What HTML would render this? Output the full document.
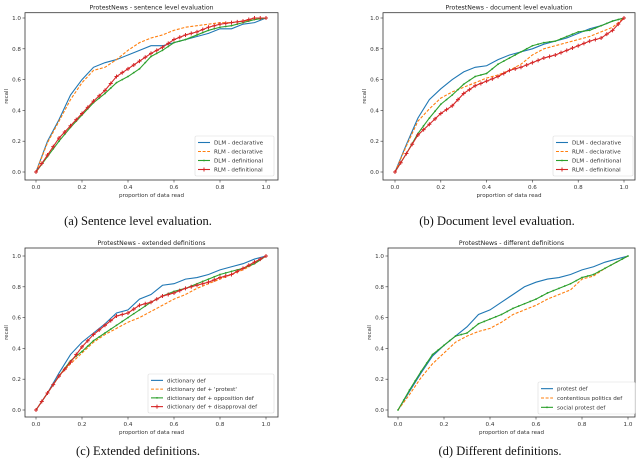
<!DOCTYPE html>
<html><head><meta charset="utf-8">
<style>
html,body{margin:0;padding:0;background:#fff;}
svg{display:block;font-family:"DejaVu Sans","Liberation Sans",sans-serif;}
.cap{font-family:"Liberation Serif",serif;font-size:12.5px;fill:#111;}
</style></head>
<body>
<svg id="fig" width="640" height="468" viewBox="0 0 640 468"></svg>
<script>
const xs = [0,0.05,0.1,0.15,0.2,0.25,0.3,0.35,0.4,0.45,0.5,0.55,0.6,0.65,0.7,0.75,0.8,0.85,0.9,0.95,1];
const xTicks = [0,0.2,0.4,0.6,0.8,1.0];
const yTicks = [0,0.2,0.4,0.6,0.8,1.0];
// panel a
const aDlmDecl = [0,.2,.34,.5,.6,.68,.71,.73,.76,.79,.82,.82,.84,.86,.88,.9,.93,.93,.96,.97,1];
const aRlmDecl = [0,.19,.33,.47,.58,.66,.68,.73,.79,.84,.87,.89,.92,.94,.95,.96,.97,.97,.98,.99,1];
const aDlmDef = [0,.1,.2,.29,.37,.45,.51,.58,.62,.67,.75,.79,.84,.86,.89,.92,.94,.95,.97,.99,1];
const aRlmDef = [0,.11,.22,.3,.38,.46,.53,.62,.67,.72,.77,.81,.86,.89,.91,.94,.96,.97,.98,1,1];
// panel b
const bDlmDecl = [0,.18,.35,.47,.54,.6,.65,.68,.69,.73,.76,.78,.8,.83,.85,.87,.9,.93,.95,.98,1];
const bRlmDecl = [0,.17,.33,.41,.48,.52,.55,.58,.61,.63,.66,.7,.76,.8,.82,.84,.86,.88,.91,.94,1];
const bDlmDef = [0,.12,.25,.35,.44,.5,.57,.62,.64,.7,.74,.78,.82,.84,.85,.88,.91,.92,.95,.98,1];
const bRlmDef = [0,.12,.24,.31,.38,.43,.51,.56,.59,.62,.66,.68,.71,.74,.76,.79,.82,.85,.87,.92,1];
// panel c
const cDict = [0,.11,.24,.36,.44,.5,.56,.63,.65,.72,.75,.81,.82,.85,.86,.88,.91,.93,.95,.98,1];
const cProtest = [0,.11,.22,.3,.37,.44,.49,.53,.57,.6,.64,.68,.72,.75,.79,.82,.85,.88,.91,.95,1];
const cOpp = [0,.11,.22,.32,.38,.45,.5,.55,.6,.65,.7,.74,.77,.79,.82,.85,.88,.9,.92,.95,1];
const cDis = [0,.11,.22,.31,.41,.49,.55,.61,.63,.68,.7,.74,.76,.79,.81,.83,.86,.88,.92,.96,1];
// panel d
const dProtest = [0,.12,.24,.35,.42,.48,.54,.62,.65,.7,.75,.8,.83,.85,.86,.88,.91,.93,.96,.98,1];
const dContent = [0,.1,.21,.3,.37,.44,.48,.51,.53,.57,.62,.65,.68,.72,.75,.78,.85,.87,.92,.96,1];
const dSocial = [0,.13,.25,.36,.42,.48,.5,.56,.59,.62,.66,.69,.72,.76,.79,.82,.86,.88,.92,.96,1];

const NS='http://www.w3.org/2000/svg';
const fig=document.getElementById('fig');
function mk(tag,attrs,parent){const e=document.createElementNS(NS,tag);for(const k in attrs)e.setAttribute(k,attrs[k]);(parent||fig).appendChild(e);return e;}
const C={blue:'#1f77b4',orange:'#ff7f0e',green:'#2ca02c',red:'#d62728'};

function panel(p){
  const g=mk('g',{});
  
  
  const X=v=>p.x0+(p.x1-p.x0)*v, Y=v=>p.y0+(p.y1-p.y0)*v;
  const box=mk('rect',{x:p.L,y:p.T,width:p.R-p.L,height:p.B-p.T,fill:'none',stroke:'#333','stroke-width':0.8},g);
  
  
  const t=mk('text',{x:(p.L+p.R)/2,y:p.T-3,'text-anchor':'middle','font-size':6.2,fill:'#222'},g);
  t.textContent=p.title;
  
  
  xTicks.forEach(v=>{
    mk('line',{x1:X(v),x2:X(v),y1:p.B,y2:p.B+2.5,stroke:'#333','stroke-width':0.6},g);
    const tx=mk('text',{x:X(v),y:p.B+9,'text-anchor':'middle','font-size':5.6,fill:'#333'},g);
    tx.textContent=v.toFixed(1);
    
    
  });
  yTicks.forEach(v=>{
    mk('line',{x1:p.L-2.5,x2:p.L,y1:Y(v),y2:Y(v),stroke:'#333','stroke-width':0.6},g);
    const ty=mk('text',{x:p.L-4,y:Y(v)+2,'text-anchor':'end','font-size':5.6,fill:'#333'},g);
    ty.textContent=v.toFixed(1);
    
    
  });
  const xl=mk('text',{x:(p.L+p.R)/2,y:p.B+17,'text-anchor':'middle','font-size':5.6,fill:'#333'},g);
  xl.textContent='proportion of data read';
  
  
  const yl=mk('text',{x:0,y:0,'text-anchor':'middle','font-size':5.4,fill:'#333',transform:`translate(${p.L-17},${(p.T+p.B)/2}) rotate(-90)`},g);
  yl.textContent='recall';
  
  
  p.series.forEach(s=>{
    const pts=xs.map((x,i)=>X(x).toFixed(2)+','+Y(s.data[i]).toFixed(2)).join(' ');
    const pl=mk('polyline',{points:pts,fill:'none',stroke:C[s.color],'stroke-width':1.1,'stroke-dasharray':s.dash?'3,1.6':'none'},g);
    
    
    if(s.marker){
      for(let i=0;i<xs.length;i++){
        const cands=[[xs[i],s.data[i]]];
        if(i<xs.length-1) cands.push([(xs[i]+xs[i+1])/2,(s.data[i]+s.data[i+1])/2]);
        cands.forEach(([xv,yv])=>{
          const cx=X(xv),cy=Y(yv);
          if(s.marker==='plus'){
            mk('path',{d:`M${cx-2},${cy}H${cx+2}M${cx},${cy-2}V${cy+2}`,stroke:C[s.color],'stroke-width':1},g);
          } else {
            mk('circle',{cx,cy,r:0.9,fill:C[s.color]},g);
          }
        });
      }
    }
  });
  // legend
  const lg=mk('g',{},g);
  
  
  mk('rect',{x:p.lg[0],y:p.lg[1],width:p.lg[2],height:p.lg[3],fill:'#fff',stroke:'#ddd','stroke-width':0.6,rx:1.5},lg);
  const n=p.series.length, rowH=(p.lg[3]-4)/n;
  p.series.forEach((s,i)=>{
    const y=p.lg[1]+2+rowH*(i+0.5);
    const lx=p.lg[0]+3;
    mk('line',{x1:lx,x2:lx+12,y1:y,y2:y,stroke:C[s.color],'stroke-width':1.1,'stroke-dasharray':s.dash?'3,1.6':'none'},lg);
    if(s.marker==='plus') mk('path',{d:`M${lx+4},${y}h4M${lx+6},${y-2}v4`,stroke:C[s.color],'stroke-width':1},lg);
    if(s.marker==='dot') mk('circle',{cx:lx+6,cy:y,r:0.9,fill:C[s.color]},lg);
    const tt=mk('text',{x:lx+16,y:y+2,'font-size':5.6,fill:'#333'},lg);
    tt.textContent=s.label;
    
    
  });
  const cp=mk('text',{x:p.cap[0],y:p.cap[1],'text-anchor':'middle',class:'cap'},g);
  cp.textContent=p.caption;
  
  
}

panel({id:'panel-a',L:25,R:278,T:12.7,B:180,x0:36,x1:266,y0:172,y1:18,title:'ProtestNews - sentence level evaluation',
  lg:[195,136,79,40],cap:[138,225],caption:'(a) Sentence level evaluation.',
  series:[{name:'dlm-declarative',label:'DLM - declarative',color:'blue',data:aDlmDecl},
          {name:'rlm-declarative',label:'RLM - declarative',color:'orange',dash:true,data:aRlmDecl},
          {name:'dlm-definitional',label:'DLM - definitional',color:'green',marker:'dot',data:aDlmDef},
          {name:'rlm-definitional',label:'RLM - definitional',color:'red',marker:'plus',data:aRlmDef}]});
panel({id:'panel-b',L:383,R:635,T:12.7,B:180,x0:395,x1:624,y0:172,y1:18,title:'ProtestNews - document level evaluation',
  lg:[553,136,80,40],cap:[497,225],caption:'(b) Document level evaluation.',
  series:[{name:'dlm-declarative',label:'DLM - declarative',color:'blue',data:bDlmDecl},
          {name:'rlm-declarative',label:'RLM - declarative',color:'orange',dash:true,data:bRlmDecl},
          {name:'dlm-definitional',label:'DLM - definitional',color:'green',marker:'dot',data:bDlmDef},
          {name:'rlm-definitional',label:'RLM - definitional',color:'red',marker:'plus',data:bRlmDef}]});
panel({id:'panel-c',L:25,R:278,T:248,B:417,x0:36,x1:266,y0:410,y1:256,title:'ProtestNews - extended definitions',
  lg:[148,374,126,39],cap:[138,455],caption:'(c) Extended definitions.',
  series:[{name:'dictionary-def',label:'dictionary def',color:'blue',data:cDict},
          {name:'dictionary-protest',label:"dictionary def + 'protest'",color:'orange',dash:true,data:cProtest},
          {name:'dictionary-opposition',label:'dictionary def + opposition def',color:'green',marker:'dot',data:cOpp},
          {name:'dictionary-disapproval',label:'dictionary def + disapproval def',color:'red',marker:'plus',data:cDis}]});
panel({id:'panel-d',L:388,R:635,T:248,B:417,x0:398,x1:628,y0:410,y1:256,title:'ProtestNews - different definitions',
  lg:[538,382,97,32],cap:[500,455],caption:'(d) Different definitions.',
  series:[{name:'protest-def',label:'protest def',color:'blue',data:dProtest},
          {name:'contentious-politics-def',label:'contentious politics def',color:'orange',dash:true,data:dContent},
          {name:'social-protest-def',label:'social protest def',color:'green',marker:'dot',data:dSocial}]});
</script>
</body></html>
